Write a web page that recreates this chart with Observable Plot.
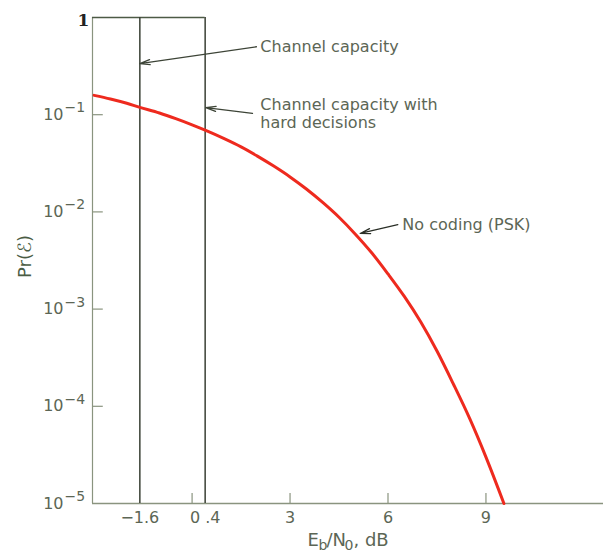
<!DOCTYPE html>
<html>
<head>
<meta charset="utf-8">
<script src="https://cdn.jsdelivr.net/npm/d3@7"></script>
<script src="https://cdn.jsdelivr.net/npm/@observablehq/plot@0.6"></script>
<style>
  html, body { margin: 0; padding: 0; background: #fff; }
  svg { display: block; }
</style>
</head>
<body>
<div id="chart"></div>
<script>
// Eb/N0 (dB) and Pr(E)
const ebn0 = [-3, -2.5, -2, -1.6, -1, -0.5, 0, 0.4, 1, 1.5, 2, 2.5, 3, 3.5, 4, 4.5, 5, 5.5, 6, 6.5, 7, 7.5, 8, 8.5, 9, 9.55];
const prErr = [0.158, 0.145, 0.131, 0.119, 0.104, 0.091, 0.0786, 0.0693, 0.0563, 0.0466, 0.0375, 0.0296, 0.0229, 0.0172, 0.0125, 0.0088, 0.0059, 0.0038, 0.0023, 0.00135, 0.00074, 0.00037, 0.00017, 0.000075, 0.00003, 0.00001];

// vertical limits
const capacityLines = [-1.6, 0.4];
// axis ticks
const xTickMarks = [0, 3, 6, 9];
const xTickLabels = [{x: -1.6, t: "\u22121.6"}, {x: 0.4, t: "0 .4"}, {x: 3, t: "3"}, {x: 6, t: "6"}, {x: 9, t: "9"}];
const yDecades = [1e-1, 1e-2, 1e-3, 1e-4, 1e-5];
const yExponents = ["\u22121", "\u22122", "\u22123", "\u22124", "\u22125"];

const xMin = -3.05, xMax = 12.6;
const txt = "#5c6655";
const axisCol = "#8a947f";
const lineCol = "#3a4035";
const font = "DejaVu Sans, sans-serif";

const curve = ebn0.map((x, i) => ({x, y: prErr[i]}));

const plot = Plot.plot({
  width: 603,
  height: 554,
  marginLeft: 92,
  marginRight: 0,
  marginTop: 17,
  marginBottom: 51,
  style: {fontFamily: font, background: "#fff", overflow: "visible"},
  x: {domain: [xMin, xMax], axis: null},
  y: {type: "log", domain: [1e-5, 1], axis: null},
  marks: [
    // frame pieces
    Plot.ruleX([xMin], {stroke: axisCol, strokeWidth: 1.2}),
    Plot.ruleY([1e-5], {stroke: axisCol, strokeWidth: 1.5}),
    Plot.ruleY([1], {x1: xMin, x2: 0.4, stroke: "#4c5a45", strokeWidth: 1.5}),
    Plot.ruleX(capacityLines, {stroke: lineCol, strokeWidth: 1.5}),
    // ticks
    Plot.ruleX(xTickMarks, {y1: 1e-5, y2: 1.27e-5, stroke: axisCol, strokeWidth: 1.2}),
    Plot.ruleY(yDecades.slice(0, 4), {x1: xMin, x2: xMin + 0.33, stroke: axisCol, strokeWidth: 1.2}),
    // curve
    Plot.line(curve, {x: "x", y: "y", stroke: "#ee2a1e", strokeWidth: 3, curve: "monotone-x"}),
    // y tick labels
    Plot.text(["1"], {frameAnchor: "top-left", lineAnchor: "middle", dx: -9, dy: 3, text: d => d, fontSize: 17, fontWeight: "bold", fontFamily: "DejaVu Serif, serif", fill: "#222", textAnchor: "middle"}),
    Plot.text(yDecades, {y: d => d, frameAnchor: "left", dx: -29, text: () => "10", fontSize: 16, fill: txt, textAnchor: "end"}),
    Plot.text(yDecades, {y: d => d, frameAnchor: "left", dx: -28, dy: -7, text: (d, i) => yExponents[i], fontSize: 14, fill: txt, textAnchor: "start"}),
    // x tick labels
    Plot.text(xTickLabels, {x: "x", text: "t", frameAnchor: "bottom", lineAnchor: "middle", dy: 14, fontSize: 16, fill: txt, textAnchor: "middle"}),
    // y title
    Plot.text(["Pr(\u2130)"], {frameAnchor: "left", lineAnchor: "middle", dx: -67, dy: -4, text: d => d, rotate: -90, fontSize: 18, fill: "#4a5c44", textAnchor: "middle"}),
    // annotations
    Plot.arrow([{x1: 1.97, y1: 0.50, x2: -1.6, y2: 0.336}], {x1: "x1", y1: "y1", x2: "x2", y2: "y2", stroke: "#3d4437", strokeWidth: 1.3, headLength: 12, headAngle: 28}),
    Plot.arrow([{x1: 1.85, y1: 0.103, x2: 0.42, y2: 0.118}], {x1: "x1", y1: "y1", x2: "x2", y2: "y2", stroke: "#3d4437", strokeWidth: 1.3, headLength: 12, headAngle: 28}),
    Plot.arrow([{x1: 6.3, y1: 0.0074, x2: 5.15, y2: 0.006}], {x1: "x1", y1: "y1", x2: "x2", y2: "y2", stroke: "#2a2f27", strokeWidth: 1.3, headLength: 12, headAngle: 28}),
    Plot.text([{x: 2.09, y: 0.50, t: "Channel capacity"}], {x: "x", y: "y", text: "t", textAnchor: "start", fontSize: 16, fill: txt}),
    Plot.text([{x: 2.09, y: 0.103, t: "Channel capacity with\nhard decisions"}], {x: "x", y: "y", text: "t", textAnchor: "start", lineHeight: 1.12, fontSize: 16, fill: txt}),
    Plot.text([{x: 6.44, y: 0.0074, t: "No coding (PSK)"}], {x: "x", y: "y", text: "t", textAnchor: "start", fontSize: 16, fill: txt}),
    // x title pieces
    Plot.text(["E"], {frameAnchor: "bottom-left", lineAnchor: "middle", dx: 215, dy: 37, text: d => d, fontSize: 18, fill: txt, textAnchor: "start"}),
    Plot.text(["b"], {frameAnchor: "bottom-left", lineAnchor: "middle", dx: 226, dy: 42, text: d => d, fontSize: 14, fill: txt, textAnchor: "start"}),
    Plot.text(["/N"], {frameAnchor: "bottom-left", lineAnchor: "middle", dx: 234, dy: 37, text: d => d, fontSize: 18, fill: txt, textAnchor: "start"}),
    Plot.text(["0"], {frameAnchor: "bottom-left", lineAnchor: "middle", dx: 252, dy: 42, text: d => d, fontSize: 14, fill: txt, textAnchor: "start"}),
    Plot.text([", dB"], {frameAnchor: "bottom-left", lineAnchor: "middle", dx: 261, dy: 37, text: d => d, fontSize: 18, fill: txt, textAnchor: "start"})
  ]
});
document.getElementById("chart").appendChild(plot);
</script>
</body>
</html>
